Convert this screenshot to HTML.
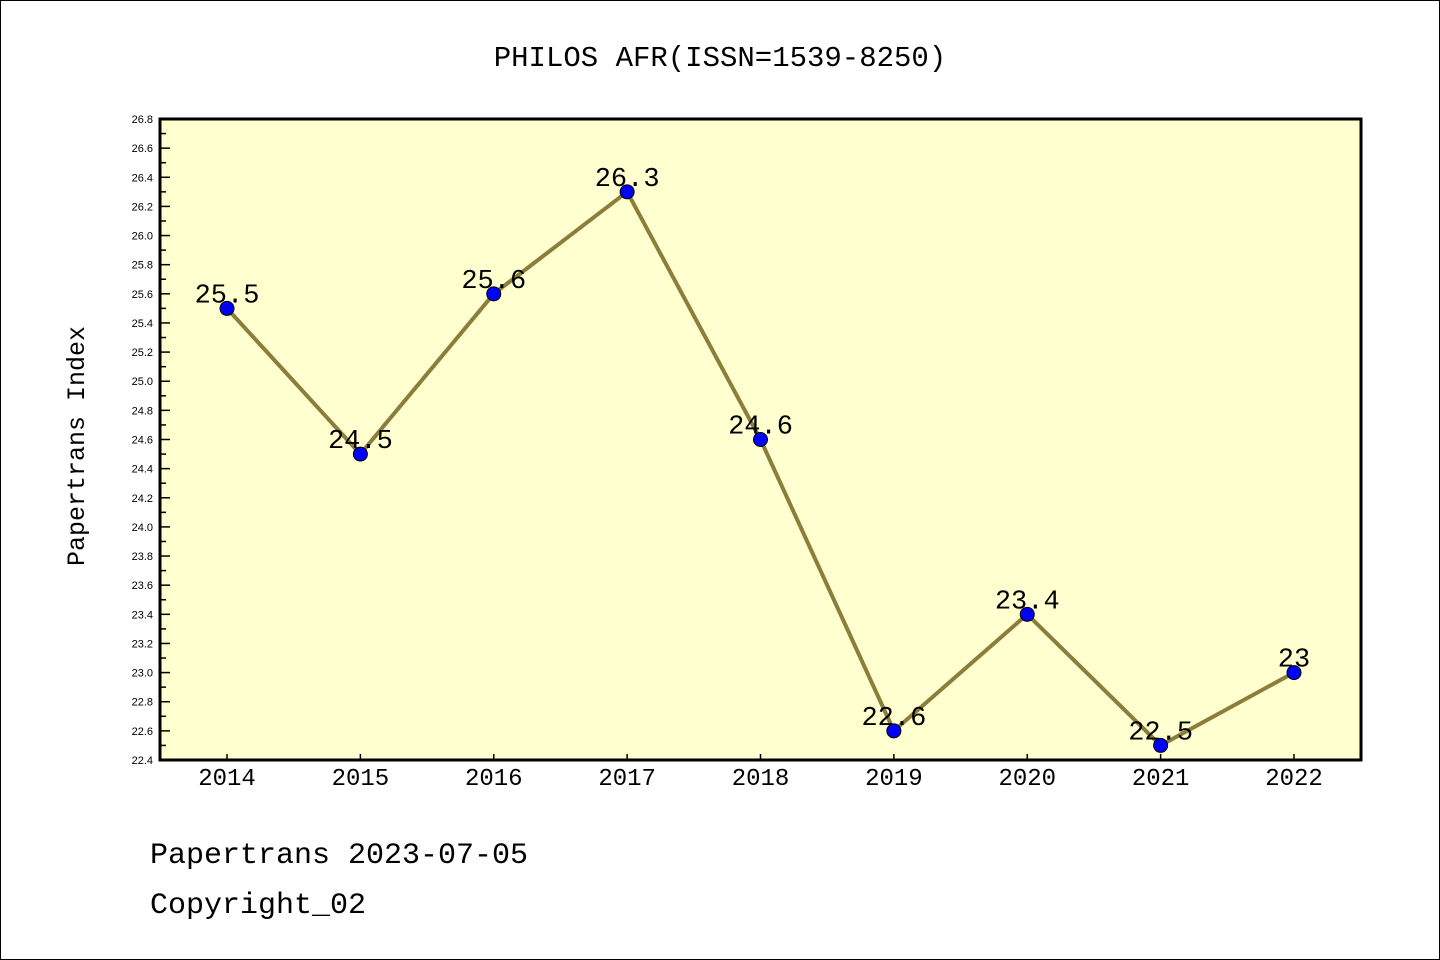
<!DOCTYPE html>
<html><head><meta charset="utf-8"><style>
body{margin:0;background:#fff}
svg{display:block;font-family:"Liberation Mono","DejaVu Sans Mono",monospace}
</style></head><body>
<svg id="c" width="1440" height="960">
<rect x="0.5" y="0.5" width="1439" height="959" fill="#fff" stroke="#000"/>
<text x="720" y="66" font-size="29" text-anchor="middle">PHILOS AFR(ISSN=1539-8250)</text>
<rect x="160" y="119" width="1201" height="641" fill="#ffffd0"/>
<g id="ticks"></g>
<g id="marks"></g>
<rect x="160" y="119" width="1201" height="641" fill="none" stroke="#000" stroke-width="3"/>
<text transform="translate(84,446) rotate(-90)" font-size="25" text-anchor="middle">Papertrans Index</text>
<text x="150" y="863" font-size="30">Papertrans 2023-07-05</text>
<text x="150" y="913" font-size="30">Copyright_02</text>
</svg>
<script>
const years=["2014","2015","2016","2017","2018","2019","2020","2021","2022"];
const values=[25.5,24.5,25.6,26.3,24.6,22.6,23.4,22.5,23.0];
const labels=["25.5","24.5","25.6","26.3","24.6","22.6","23.4","22.5","23"];
const yMin=22.4,yMax=26.8;
const NS="http://www.w3.org/2000/svg";
function x(i){return 227+i*(1294-227)/8;}
function y(v){return 760-(v-yMin)/(yMax-yMin)*641;}
function mk(t,a,p){const e=document.createElementNS(NS,t);for(const k in a)e.setAttribute(k,a[k]);p.appendChild(e);return e;}
const tk=document.getElementById('ticks'),mg=document.getElementById('marks');
for(let k=0;k<=44;k++){const v=yMin+k*0.1;const yy=y(v);const major=k%2==0;
 const l=mk('line',{x1:160,x2:160+(major?10:6),y1:yy,y2:yy,stroke:'#000','stroke-width':1.5},tk);
 
 if(major){const t=mk('text',{x:153,y:yy+4,'font-size':11,'text-anchor':'end','font-family':'Liberation Sans, sans-serif'},tk);t.textContent=v.toFixed(1);
 }}
years.forEach((yr,i)=>{const l=mk('line',{x1:x(i),x2:x(i),y1:760,y2:754,stroke:'#000','stroke-width':1.5},tk);
 
 const t=mk('text',{x:x(i),y:785,'font-size':24,'text-anchor':'middle'},tk);t.textContent=yr;
 });
const pl=mk('polyline',{points:values.map((v,i)=>x(i)+','+y(v)).join(' '),fill:'none',stroke:'#8b7d3a','stroke-width':4},mg);

values.forEach((v,i)=>{const c=mk('circle',{cx:x(i),cy:y(v),r:7,fill:'#0000ff',stroke:'#000','stroke-width':1},mg);
 
 const t=mk('text',{x:x(i),y:y(v)-6,'font-size':27,'text-anchor':'middle'},mg);t.textContent=labels[i];
 });
</script>
</body></html>
